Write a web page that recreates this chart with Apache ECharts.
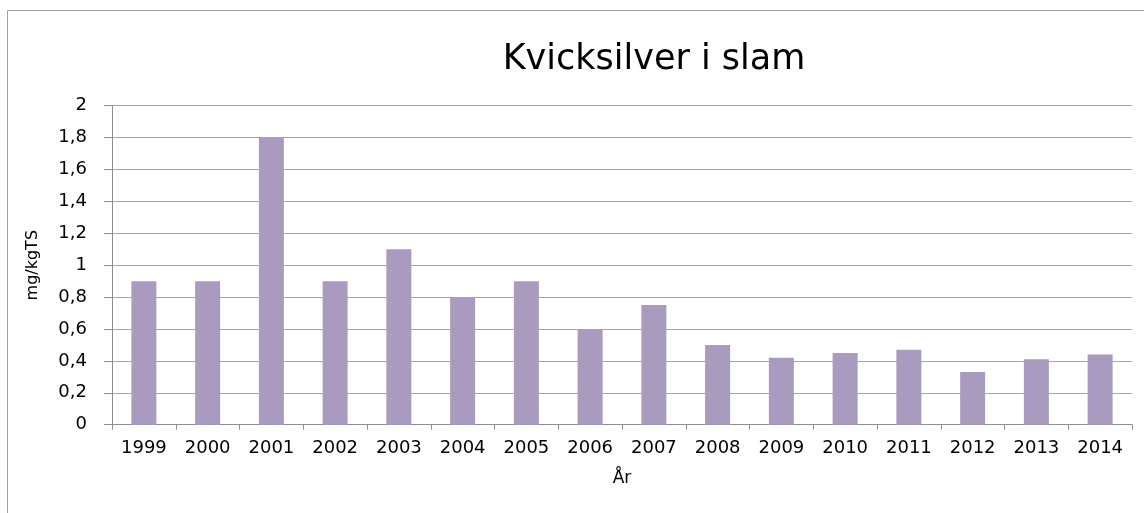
<!DOCTYPE html>
<html>
<head>
<meta charset="utf-8">
<script src="https://cdn.jsdelivr.net/npm/echarts@6/dist/echarts.min.js"></script>
<style>
  html, body { margin: 0; padding: 0; background: #fff; }
  #chart { width: 1144px; height: 513px; }
</style>
</head>
<body>
<div id="chart"></div>
<script>
// data
var years = ['1999', '2000', '2001', '2002', '2003', '2004', '2005', '2006',
             '2007', '2008', '2009', '2010', '2011', '2012', '2013', '2014']
var mercury = [0.9, 0.9, 1.8, 0.9, 1.1, 0.8, 0.9, 0.6,
               0.75, 0.5, 0.42, 0.45, 0.47, 0.33, 0.41, 0.44]
var titleText = 'Kvicksilver i slam'
var yName = 'mg/kgTS'
var xName = 'År'

var font = 'DejaVu Sans'
var chart = echarts.init(document.getElementById('chart'))

var option = {
  animation: false,
  backgroundColor: '#fff',
  title: {
    text: titleText,
    left: 649,
    top: 37,
    textAlign: 'center',
    textStyle: {
      fontFamily: font,
      fontWeight: 'normal',
      fontSize: 35,
      color: '#000'
    }
  },
  graphic: [{
    type: 'rect',
    shape: { x: 7.5, y: 10.5, width: 1300, height: 700 },
    style: { fill: 'none', stroke: '#a0a0a0', lineWidth: 1 },
    silent: true
  }],
  grid: {
    left: 112,
    right: 12,
    top: 105.7,
    bottom: 88.3,
    containLabel: false,
    outerBoundsMode: 'none'
  },
  xAxis: {
    type: 'category',
    data: years,
    name: xName,
    nameLocation: 'middle',
    nameGap: 45,
    nameTextStyle: { fontFamily: font, fontSize: 17, color: '#000' },
    axisLine: { lineStyle: { color: '#8c8c8c' } },
    axisTick: { show: true, length: 5, lineStyle: { color: '#8c8c8c' } },
    axisLabel: { fontFamily: font, fontSize: 18, color: '#000', margin: 15 }
  },
  yAxis: {
    type: 'value',
    min: 0,
    max: 2,
    interval: 0.2,
    name: yName,
    nameLocation: 'middle',
    nameGap: 71,
    nameTextStyle: { fontFamily: font, fontSize: 16, color: '#000' },
    axisLine: { show: true, lineStyle: { color: '#8c8c8c' } },
    axisTick: { show: true, length: 8, lineStyle: { color: '#8c8c8c' } },
    splitLine: { lineStyle: { color: '#a6a6a6' } },
    axisLabel: {
      fontFamily: font,
      fontSize: 18,
      color: '#000',
      margin: 25,
      formatter: function (v) { return String(v).replace('.', ',') }
    }
  },
  series: [{
    type: 'bar',
    data: mercury,
    barWidth: 25,
    itemStyle: { color: '#a99bbf' }
  }]
}

chart.setOption(option)
</script>
</body>
</html>
